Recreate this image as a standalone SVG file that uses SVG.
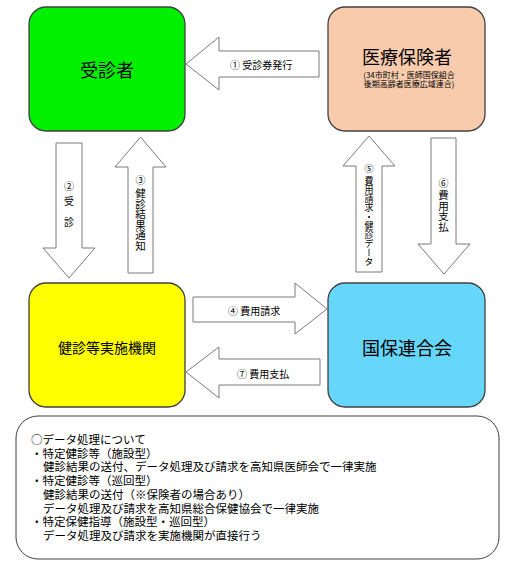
<svg xmlns="http://www.w3.org/2000/svg" width="529" height="567" viewBox="0 0 529 567">
<style>
text{font-family:"Noto Sans CJK JP","Noto Sans",sans-serif;fill:#000}
.node{stroke:#404040;stroke-width:1.3}
.arr{fill:#fff;stroke:#7a7a7a;stroke-width:1}
.lbl{font-size:10px;dominant-baseline:central}
.vlbl{font-size:10px;text-anchor:middle;dominant-baseline:central}
.vtxt{font-size:10.5px;writing-mode:vertical-rl}
.big{font-size:18px;text-anchor:middle;dominant-baseline:central}
.note{font-size:11.5px;dominant-baseline:central}
</style>
<rect width="529" height="567" fill="#fff"/>
<g id="connectors">
  <g id="arrow1"><polygon class="arr" points="186,64 219,37 219,51 319,51 319,77 219,77 219,90"/><text class="lbl" x="230" y="64">① 受診券発行</text></g>
  <g id="arrow2"><polygon class="arr" points="56,143 82,143 82,248 95,248 69,278 43,248 56,248"/>
    <text class="vlbl" x="69" y="185">②</text><text class="vlbl" x="69" y="200">受</text><text class="vlbl" x="69" y="221">診</text></g>
  <g id="arrow3"><polygon class="arr" points="140.5,137 166,167 153,167 153,273 128,273 128,167 115,167"/>
    <text class="vlbl" x="140.5" y="179">③</text>
    <text class="vtxt" x="140.5" y="188">健診結果通知</text></g>
  <g id="arrow4"><polygon class="arr" points="327,309 295,283 295,297 193,297 193,322 295,322 295,334"/><text class="lbl" x="228" y="310">④ 費用請求</text></g>
  <g id="arrow5"><polygon class="arr" points="369,136 395,166 382,166 382,272 356,272 356,166 343,166"/>
    <text class="vlbl" x="369" y="168" style="font-size:9px">⑤</text>
    <text x="369" y="176" style="font-size:9px;writing-mode:vertical-rl">費用請求・健診データ</text></g>
  <g id="arrow6"><polygon class="arr" points="431,138 456,138 456,244 470,244 444,274 418,244 431,244"/>
    <text class="vlbl" x="443.5" y="182">⑥</text>
    <text class="vtxt" x="443.5" y="190">費用支払</text></g>
  <g id="arrow7"><polygon class="arr" points="186,372 219,347 219,359 320,359 320,385 219,385 219,398"/><text class="lbl" x="237" y="373">⑦ 費用支払</text></g>
</g>
<g id="jushinsha"><rect class="node" x="29" y="7" width="156" height="124" rx="17" fill="#00F000"/><text class="big" x="107" y="69">受診者</text></g>
<g id="hokensha"><rect class="node" x="328" y="7" width="157" height="124" rx="17" fill="#F8CBAD"/><text class="big" x="407" y="56">医療保険者</text>
  <text style="font-size:8px;text-anchor:middle;dominant-baseline:central"><tspan x="409" y="73.5">(34市町村・医師国保組合</tspan><tspan x="409" y="82.5">後期高齢者医療広域連合)</tspan></text></g>
<g id="kikan"><rect class="node" x="29" y="283" width="156" height="124" rx="17" fill="#FFFF00"/><text x="107" y="347" style="font-size:14px;text-anchor:middle;dominant-baseline:central">健診等実施機関</text></g>
<g id="kokuhoren"><rect class="node" x="328" y="283" width="157" height="124" rx="17" fill="#66D6FB"/><text class="big" x="407" y="347">国保連合会</text></g>
<g id="note"><rect x="16" y="416" width="483" height="143" rx="22" fill="#fff" stroke="#404040" stroke-width="1"/>
  <text class="note"><tspan x="31" y="439">○データ処理について</tspan><tspan x="31" y="452.7">・特定健診等（施設型）</tspan><tspan x="43" y="466.4">健診結果の送付、データ処理及び請求を高知県医師会で一律実施</tspan><tspan x="31" y="480.1">・特定健診等（巡回型）</tspan><tspan x="43" y="493.8">健診結果の送付（※保険者の場合あり）</tspan><tspan x="43" y="507.5">データ処理及び請求を高知県総合保健協会で一律実施</tspan><tspan x="31" y="521.2">・特定保健指導（施設型・巡回型）</tspan><tspan x="43" y="534.9">データ処理及び請求を実施機関が直接行う</tspan></text>
</g>
</svg>
